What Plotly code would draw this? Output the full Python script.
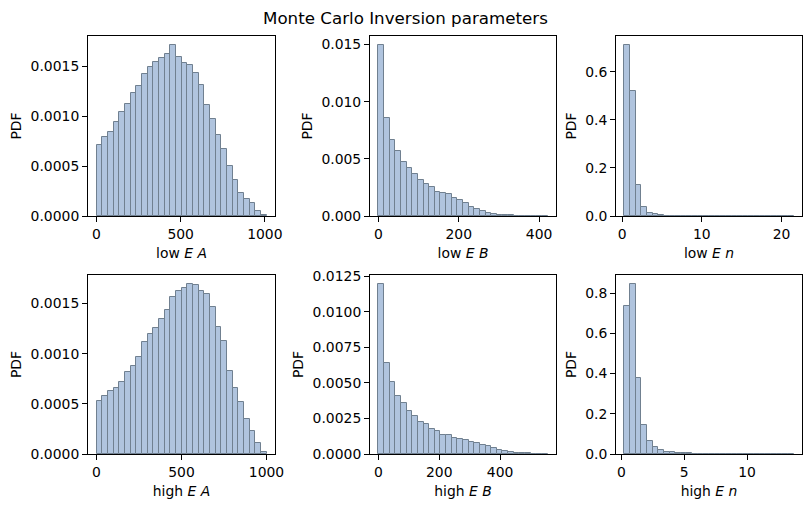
import numpy as np
import plotly.graph_objects as go

# ---- data: histogram bin heights (PDF) ----
low_A = [0.000708, 0.000792, 0.000842, 0.000942, 0.00104, 0.00112, 0.00123, 0.0013,
         0.00142, 0.0015, 0.00155, 0.00159, 0.00163, 0.00172, 0.0016, 0.00154, 0.00152,
         0.00143, 0.00131, 0.00111, 0.00097, 0.000815, 0.00067, 0.0005, 0.00036,
         0.000234, 0.00017, 0.000127, 0.000047, 0.00001]
low_B = [0.015, 0.00855, 0.00665, 0.00572, 0.00473, 0.0042, 0.00368, 0.00312, 0.0028,
         0.00254, 0.00213, 0.00198, 0.00193, 0.0016, 0.00137, 0.00114, 0.00082, 0.00064,
         0.00047, 0.00029, 0.00018, 0.00012, 0.00007, 0.00006, 0.00003, 0.00002,
         0.00001, 0.000005, 0.0, 0.000005]
low_n = [0.714, 0.522, 0.129, 0.037, 0.0125, 0.008, 0.004, 0.002, 0.0015, 0.001,
         0.0007, 0.0005, 0.0004, 0.0003, 0.0002, 0.0002, 0.0001, 0.0001, 0.0001, 0.00005,
         0.00005, 0.0, 0.00005, 0.0, 0.0, 0.0, 0.0, 0.0, 0.0, 0.00005]
high_A = [0.000525, 0.000575, 0.000631, 0.00066, 0.00072, 0.00082, 0.00088, 0.00097,
          0.00112, 0.0012, 0.001255, 0.001345, 0.00144, 0.00157, 0.00163, 0.00166,
          0.0017, 0.00169, 0.00163, 0.0016, 0.00147, 0.00127, 0.00113, 0.00083, 0.00066,
          0.000515, 0.000354, 0.000228, 0.000106, 0.00002]
high_B = [0.01198, 0.0064, 0.00507, 0.00409, 0.00356, 0.0030, 0.0027, 0.00226, 0.00214,
          0.00179, 0.0016, 0.00137, 0.00137, 0.00109, 0.00102, 0.00095, 0.00086, 0.00074,
          0.0006, 0.00053, 0.0004, 0.00026, 0.00019, 0.00012, 0.00007, 0.00007, 0.00006,
          0.000005, 0.0, 0.000005]
high_n = [0.734, 0.848, 0.378, 0.146, 0.064, 0.033, 0.0197, 0.0107, 0.0099, 0.0066,
          0.005, 0.005, 0.002, 0.001, 0.001, 0.0005, 0.0005, 0.0003, 0.0002, 0.0001,
          0.0001, 0.0, 0.0001, 0.0, 0.0, 0.0, 0.0, 0.0, 0.0, 0.0001]

# sample range (min, max) covered by the 30 bins of each histogram
low_A_range = (0.0, 1010.0)
low_B_range = (0.0, 421.0)
low_n_range = (0.3, 21.5)
high_A_range = (0.0, 1000.0)
high_B_range = (0.0, 556.0)
high_n_range = (0.25, 13.7)

x_labels = ["low <i>E</i> <i>A</i>", "low <i>E</i> <i>B</i>", "low <i>E</i> <i>n</i>",
            "high <i>E</i> <i>A</i>", "high <i>E</i> <i>B</i>", "high <i>E</i> <i>n</i>"]
title = "Monte Carlo Inversion parameters"

panels = [
    (low_A, low_A_range, 500, 0.0005, ".4f"),
    (low_B, low_B_range, 200, 0.005, ".3f"),
    (low_n, low_n_range, 10, 0.2, ".1f"),
    (high_A, high_A_range, 500, 0.0005, ".4f"),
    (high_B, high_B_range, 200, 0.0025, ".4f"),
    (high_n, high_n_range, 5, 0.2, ".1f"),
]

W, H = 811, 511
col_px = [(88, 275), (370, 556), (616, 802)]
row_px = [(36, 216), (275, 454)]

FONT = "DejaVu Sans"
fig = go.Figure()
layout = dict(
    width=W, height=H,
    margin=dict(l=0, r=0, t=0, b=0),
    paper_bgcolor="white", plot_bgcolor="white",
    showlegend=False,
    font=dict(family=FONT, size=13.9, color="black"),
    bargap=0,
)

for i, (vals, (lo, hi), xdt, ydt, yfmt) in enumerate(panels):
    r, c = divmod(i, 3)
    n = len(vals)
    edges = np.linspace(lo, hi, n + 1)
    centers = (edges[:-1] + edges[1:]) / 2
    bw = edges[1] - edges[0]
    k = "" if i == 0 else str(i + 1)
    fig.add_trace(go.Bar(
        x=centers, y=vals, width=bw,
        marker=dict(color="rgb(176,196,222)", line=dict(color="rgb(112,128,144)", width=1)),
        xaxis="x" + k, yaxis="y" + k,
    ))
    w = hi - lo
    ymax = max(vals)
    common = dict(showline=True, linecolor="black", linewidth=1, mirror=True,
                  ticks="outside", ticklen=5, tickwidth=1, tickcolor="black",
                  showgrid=False, zeroline=False, automargin=False,
                  tickfont=dict(family=FONT, size=13.9, color="black"))
    x0, x1 = col_px[c]
    y0, y1 = row_px[r]
    layout["xaxis" + k] = dict(
        common, domain=[x0 / W, x1 / W], anchor="y" + k,
        range=[lo - 0.05 * w, hi + 0.05 * w], tick0=0, dtick=xdt,
        title=dict(text=x_labels[i], font=dict(family=FONT, size=13.9), standoff=7),
    )
    layout["yaxis" + k] = dict(
        common, domain=[1 - y1 / H, 1 - y0 / H], anchor="x" + k,
        range=[0, ymax * 1.05], tick0=0, dtick=ydt, tickformat=yfmt,
        title=dict(text="PDF", font=dict(family=FONT, size=13.9), standoff=5),
    )

layout["annotations"] = [dict(
    text=title, x=0.5, y=1 - 18 / H, xref="paper", yref="paper",
    xanchor="center", yanchor="middle", showarrow=False,
    font=dict(family=FONT, size=16.7, color="black"),
)]
fig.update_layout(**layout)
fig.write_html("out.html")
